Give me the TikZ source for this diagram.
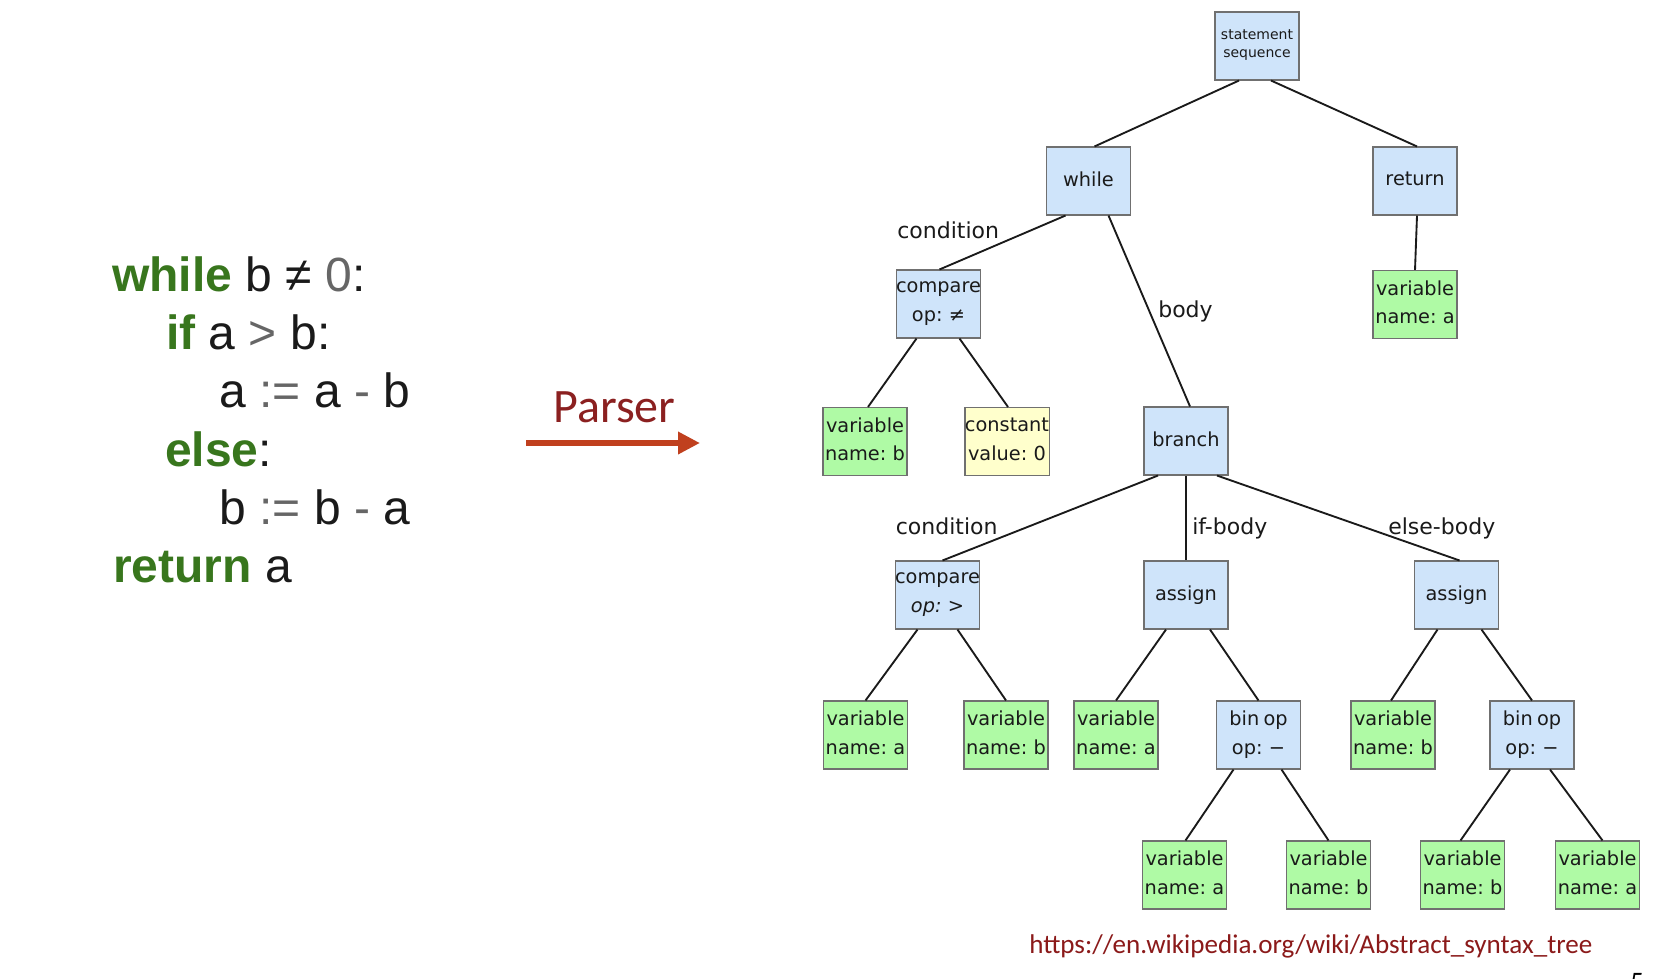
\documentclass[tikz,border=0pt]{standalone}
\usepackage{fontspec}
\setmainfont{DejaVu Sans}[WordSpace=0.7]
\newfontfamily\lblfont{DejaVu Sans}
\newfontfamily\codefont{Liberation Sans}
\newfontfamily\carlito{Carlito}
\usetikzlibrary{arrows.meta,calc}
\definecolor{nodeblue}{RGB}{207,228,250}
\definecolor{nodegreen}{RGB}{175,250,165}
\definecolor{nodeyellow}{RGB}{255,255,204}
\definecolor{nodeborder}{RGB}{112,112,112}
\definecolor{kwgreen}{RGB}{56,118,29}
\definecolor{opgray}{RGB}{102,102,102}
\definecolor{parserred}{RGB}{139,32,32}
\definecolor{arrowred}{RGB}{192,64,30}
\definecolor{urlred}{RGB}{139,26,26}
\definecolor{inkblack}{RGB}{26,26,26}
\newcommand{\lowstrut}{\rule[-3.5pt]{0pt}{3.5pt}}
\begin{document}
\begin{tikzpicture}[x=0.75pt,y=-0.75pt,
  ast/.style={draw=nodeborder, line width=0.8pt, minimum width=63pt, minimum height=51pt,
    inner sep=0pt, align=center, font=\fontsize{14.5}{21.5}\selectfont, text=inkblack,
    execute at end node=\lowstrut},
  bnode/.style={ast, fill=nodeblue},
  gnode/.style={ast, fill=nodegreen},
  ynode/.style={ast, fill=nodeyellow},
  conn/.style={line width=1.4pt, inkblack},
  lbl/.style={font=\lblfont\fontsize{16.5}{20}\selectfont, inner sep=0pt, anchor=base west, text=inkblack},
  codeline/.style={font=\codefont\fontsize{36}{43}\selectfont, inner sep=0pt, anchor=base west, text=inkblack},
  slidetext/.style={font=\carlito, inner sep=0pt, anchor=base west}
]
\fill[white] (0,0) rectangle (1658,978);
\useasboundingbox (0,0) rectangle (1658,978);

% ---- code ----
\node[codeline] (code1) at (112,291) {\textcolor{kwgreen}{\bfseries while} b ≠ \textcolor{opgray}{0}:};
\node[codeline] (code2) at (166,349) {\textcolor{kwgreen}{\bfseries if} a \textcolor{opgray}{>} b:};
\node[codeline] (code3) at (219,407) {a \textcolor{opgray}{:=} a \textcolor{opgray}{-} b};
\node[codeline] (code4) at (165,466) {\textcolor{kwgreen}{\bfseries else}:};
\node[codeline] (code5) at (219,524) {b \textcolor{opgray}{:=} b \textcolor{opgray}{-} a};
\node[codeline] (code6) at (113,582) {\textcolor{kwgreen}{\bfseries return} a};

% ---- parser arrow ----
\node[slidetext, text=parserred, font=\carlito\fontsize{36}{40}\selectfont] (parser) at (553,422) {Parser};
\coordinate (arrS) at (526,443);
\coordinate (arrE) at (700,443);
\draw[arrowred, line width=5.2pt, -{Triangle[length=16.5pt,width=16pt]}] (arrS) -- (arrE);

% ---- tree nodes ----
\node[bnode, font=\fontsize{10.5}{13.5}\selectfont, execute at end node={}] (stmt) at (1257,46) {statement\\sequence};
\node[bnode] (while) at (1088.5,181) {while};
\node[bnode] (ret) at (1415,181) {return};
\node[bnode] (cmp1) at (938.5,304) {compare\\op: ≠};
\node[gnode] (retvar) at (1415,304.5) {variable\\name: a};
\node[gnode] (vb1) at (865,441.5) {variable\\name: b};
\node[ynode] (const) at (1007,441.5) {constant\\value: 0};
\node[bnode] (branch) at (1186,441) {branch};
\node[bnode] (cmp2) at (937.5,595) {compare\\\itshape op: >};
\node[bnode] (asg1) at (1186,595) {assign};
\node[bnode] (asg2) at (1456.5,595) {assign};
\node[gnode] (va2) at (865.5,735) {variable\\name: a};
\node[gnode] (vb2) at (1006,735) {variable\\name: b};
\node[gnode] (va3) at (1116,735) {variable\\name: a};
\node[bnode] (bin1) at (1258.5,735) {bin op\\op: −};
\node[gnode] (vb3) at (1393,735) {variable\\name: b};
\node[bnode] (bin2) at (1532,735) {bin op\\op: −};
\node[gnode] (va4) at (1184.5,875) {variable\\name: a};
\node[gnode] (vb4) at (1328.5,875) {variable\\name: b};
\node[gnode] (vb5) at (1462.5,875) {variable\\name: b};
\node[gnode] (va5) at (1597.5,875) {variable\\name: a};

% ---- connectors ----
\draw[conn] ($(stmt.south)+(-18,0)$) -- ($(while.north)+(6,0)$);
\draw[conn] ($(stmt.south)+(14,0)$) -- ($(ret.north)+(2,0)$);
\draw[conn] ($(while.south)+(-23,0)$) -- ($(cmp1.north)+(1,0)$);
\draw[conn] ($(while.south)+(20,0)$) -- ($(branch.north)+(4,0)$);
\draw[conn] ($(ret.south)+(2,0)$) -- (retvar.north);
\draw[conn] ($(cmp1.south)+(-22,0)$) -- ($(vb1.north)+(3,0)$);
\draw[conn] ($(cmp1.south)+(21,0)$) -- ($(const.north)+(1,0)$);
\draw[conn] ($(branch.south)+(-28,0)$) -- ($(cmp2.north)+(5,0)$);
\draw[conn] (branch.south) -- (asg1.north);
\draw[conn] ($(branch.south)+(31,0)$) -- ($(asg2.north)+(3,0)$);
\draw[conn] ($(cmp2.south)+(-20,0)$) -- (va2.north);
\draw[conn] ($(cmp2.south)+(20,0)$) -- (vb2.north);
\draw[conn] ($(asg1.south)+(-20,0)$) -- (va3.north);
\draw[conn] ($(asg1.south)+(24,0)$) -- (bin1.north);
\draw[conn] ($(asg2.south)+(-19,0)$) -- ($(vb3.north)+(-2,0)$);
\draw[conn] ($(asg2.south)+(25,0)$) -- (bin2.north);
\draw[conn] ($(bin1.south)+(-25,0)$) -- ($(va4.north)+(1,0)$);
\draw[conn] ($(bin1.south)+(23,0)$) -- (vb4.north);
\draw[conn] ($(bin2.south)+(-22,0)$) -- ($(vb5.north)+(-2,0)$);
\draw[conn] ($(bin2.south)+(18,0)$) -- ($(va5.north)+(5,0)$);

% ---- edge labels ----
\node[lbl] (lcond1) at (897,238) {condition};
\node[lbl] (lbody) at (1158,317) {body};
\node[lbl] (lcond2) at (895.5,534) {condition};
\node[lbl] (lif) at (1192,534) {if-body};
\node[lbl] (lelse) at (1388,534) {else-body};

% ---- footer ----
\node[slidetext, text=urlred, font=\carlito\fontsize{20.3}{24}\selectfont] (url) at (1029,953) {https://en.wikipedia.org/wiki/Abstract\_syntax\_tree};
\node[slidetext, text=black, font=\carlito\fontsize{20}{24}\selectfont] (pagenum) at (1630,990) {5};
\end{tikzpicture}
\end{document}
